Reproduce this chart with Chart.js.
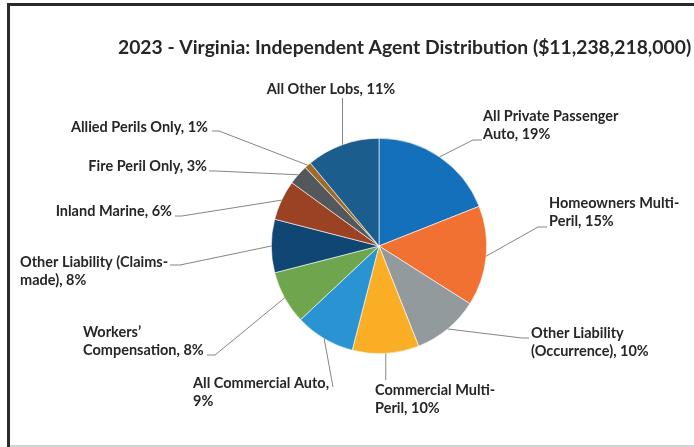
<!DOCTYPE html>
<html>
<head>
<meta charset="utf-8">
<script src="https://cdn.jsdelivr.net/npm/chart.js@4/dist/chart.umd.min.js"></script>
<style>
  html, body { margin: 0; padding: 0; background: #fff; }
  #wrap { width: 694px; height: 447px; position: relative; }
</style>
</head>
<body>
<div id="wrap"><canvas id="pie" width="694" height="447"></canvas></div>
<script>
// chart data, clockwise from 12 o'clock
const categories = [
  'All Private Passenger Auto',
  'Homeowners Multi-Peril',
  'Other Liability (Occurrence)',
  'Commercial Multi-Peril',
  'All Commercial Auto',
  'Workers’ Compensation',
  'Other Liability (Claims-made)',
  'Inland Marine',
  'Fire Peril Only',
  'Allied Perils Only',
  'All Other Lobs'
];
const shares = [19, 15, 10, 10, 9, 8, 8, 6, 3, 1, 11];
const sliceColors = [
  '#1570bb', '#f07132', '#939a9d', '#faae26', '#2a94d2', '#6ea54d',
  '#0f4674', '#9b4224', '#52585c', '#a0692a', '#1b5d8d'
];
const chartTitle = '2023 - Virginia: Independent Agent Distribution ($11,238,218,000)';

// where each label goes (text lines, anchor, leader elbow/end)
// vertical: leader drops straight from the slice edge to end y
const labelLayout = [
  { lines: ['All Private Passenger', 'Auto, 19%'], x: 483, y: 116, align: 'left', elbow: [473, 140], end: [482, 140] },
  { lines: ['Homeowners Multi-', 'Peril, 15%'], x: 549, y: 203, align: 'left', elbow: [538, 227], end: [547, 227] },
  { lines: ['Other Liability', '(Occurrence), 10%'], x: 531, y: 333, align: 'left', elbow: [522, 338], end: [529, 338] },
  { lines: ['Commercial Multi-', 'Peril, 10%'], x: 375, y: 390, align: 'left', vertical: true, end: [389, 380] },
  { lines: ['All Commercial Auto,', '9%'], x: 193, y: 383, align: 'left', end: [333, 387] },
  { lines: ['Workers’', 'Compensation, 8%'], x: 83, y: 332, align: 'left', elbow: [215, 355], end: [207, 355] },
  { lines: ['Other Liability (Claims-', 'made), 8%'], x: 20, y: 262, align: 'left', elbow: [180, 265], end: [170, 265] },
  { lines: ['Inland Marine, 6%'], x: 172, y: 211, align: 'right', elbow: [182, 216], end: [175, 216] },
  { lines: ['Fire Peril Only, 3%'], x: 207, y: 166, align: 'right', elbow: [216, 171], end: [209, 171] },
  { lines: ['Allied Perils Only, 1%'], x: 208, y: 127, align: 'right', elbow: [219, 131], end: [212, 131] },
  { lines: ['All Other Lobs, 11%'], x: 331, y: 89, align: 'center', vertical: true, end: [347, 98] }
];

const FONT = 'Lato, "Open Sans", sans-serif';
const TEXT_COLOR = '#262626';

const frame = {
  id: 'frame',
  beforeDraw(chart) {
    const ctx = chart.ctx;
    ctx.save();
    ctx.fillStyle = '#fff';
    ctx.fillRect(0, 0, chart.width, chart.height);
    ctx.fillStyle = '#d4d4d4';
    ctx.fillRect(10, 445, chart.width - 10, 2);
    ctx.fillStyle = '#2b2b2b';
    ctx.fillRect(7, 3, chart.width - 7, 3);
    ctx.fillRect(7, 3, 3, chart.height - 3);
    ctx.restore();
  }
};

const labels = {
  id: 'sliceLabels',
  afterDatasetsDraw(chart) {
    const ctx = chart.ctx;
    const arcs = chart.getDatasetMeta(0).data;
    ctx.save();

    ctx.fillStyle = TEXT_COLOR;
    ctx.font = 'bold 19.3px ' + FONT;
    ctx.textBaseline = 'middle';
    ctx.textAlign = 'left';
    ctx.fillText(chartTitle, 118, 48);

    ctx.strokeStyle = '#858585';
    ctx.lineWidth = 1;
    arcs.forEach((arc, i) => {
      const lay = labelLayout[i];
      const mid = (arc.startAngle + arc.endAngle) / 2;
      const px = arc.x + Math.cos(mid) * arc.outerRadius;
      const py = arc.y + Math.sin(mid) * arc.outerRadius;
      ctx.beginPath();
      ctx.moveTo(px, py);
      if (lay.elbow) ctx.lineTo(lay.elbow[0], lay.elbow[1]);
      ctx.lineTo(lay.vertical ? px : lay.end[0], lay.end[1]);
      ctx.stroke();

      ctx.font = 'bold 14.5px ' + FONT;
      ctx.textAlign = lay.align;
      lay.lines.forEach((t, k) => ctx.fillText(t, lay.x, lay.y + k * 18));
    });
    ctx.restore();
  }
};

new Chart(
  document.getElementById('pie'),
  {
    type: 'pie',
    data: {
      labels: categories,
      datasets: [
        {
          data: shares,
          backgroundColor: sliceColors,
          borderColor: '#ffffff',
          borderWidth: 0.6
        }
      ]
    },
    options: {
      responsive: false,
      animation: false,
      layout: {
        padding: { left: 271, right: 207, top: 138, bottom: 93 }
      },
      plugins: {
        legend: { display: false },
        tooltip: { enabled: false },
        title: { display: false }
      }
    },
    plugins: [frame, labels]
  }
);
</script>
</body>
</html>
